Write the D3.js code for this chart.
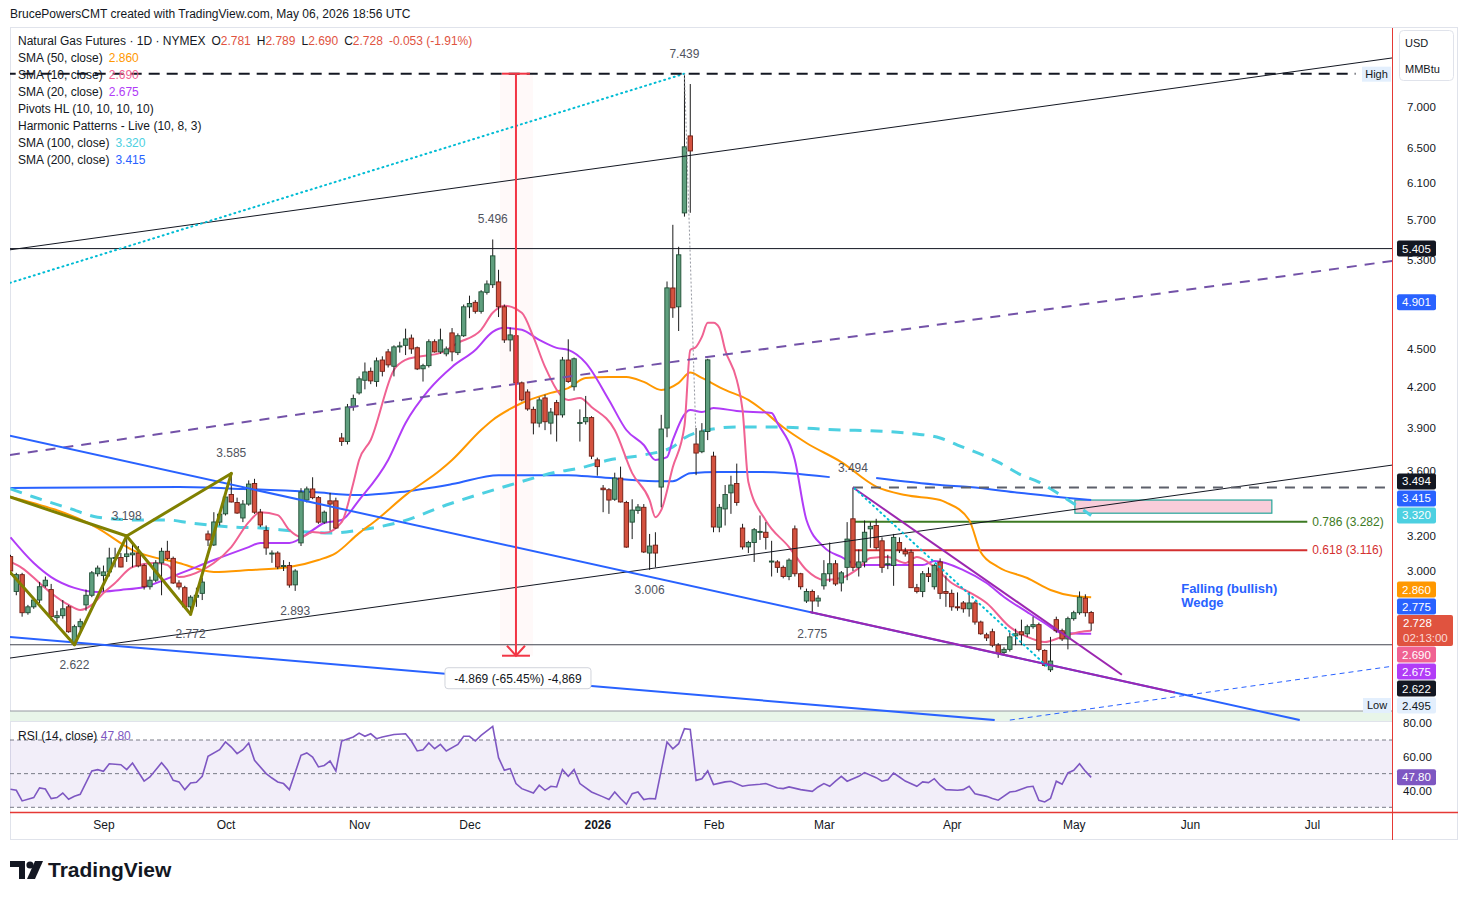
<!DOCTYPE html>
<html>
<head>
<meta charset="utf-8">
<title>Natural Gas Futures 1D</title>
<script src="https://cdn.jsdelivr.net/npm/d3@7"></script>
<style>
  body { margin: 0; background: #ffffff; }
  #drawing_region { display: block; font-family: "Liberation Sans", Arial, sans-serif; }
</style>
</head>
<body>
<svg id="drawing_region"></svg>
<script>
// daily bars, Aug 8 2025 .. May 6 2026 : [open, high, low, close]
const ohlc = [
 [3.08,3.09,2.98,3.00],[2.89,2.99,2.87,2.98],[2.98,2.99,2.76,2.78],[2.78,2.82,2.77,2.81],[2.81,2.85,2.80,2.845],
 [2.845,2.94,2.83,2.915],[2.92,2.97,2.91,2.95],[2.90,2.93,2.74,2.76],[2.755,2.79,2.73,2.765],[2.765,2.845,2.75,2.80],
 [2.81,2.82,2.68,2.685],[2.63,2.72,2.622,2.71],[2.71,2.75,2.69,2.735],[2.82,2.90,2.79,2.87],[2.87,3.00,2.86,2.99],
 [2.985,3.03,2.97,3.016],[2.975,3.03,2.89,2.995],[2.995,3.13,2.97,3.072],[3.07,3.13,3.02,3.075],[3.075,3.10,3.02,3.022],
 [3.08,3.198,3.05,3.095],[3.09,3.16,3.02,3.10],[3.10,3.14,3.02,3.028],[3.03,3.04,2.90,2.915],[2.915,2.97,2.90,2.95],
 [2.95,3.06,2.94,3.044],[3.045,3.13,2.87,3.11],[3.11,3.17,3.06,3.07],[3.07,3.08,2.93,2.935],[2.935,2.95,2.90,2.914],
 [2.91,2.92,2.80,2.81],[2.81,2.87,2.772,2.86],[2.86,2.91,2.81,2.87],[2.88,2.965,2.845,2.94],[3.21,3.23,3.14,3.175],
 [3.146,3.34,3.14,3.281],[3.28,3.35,3.26,3.328],[3.33,3.45,3.32,3.434],[3.45,3.585,3.40,3.403],[3.40,3.43,3.33,3.335],
 [3.305,3.415,3.28,3.39],[3.39,3.54,3.38,3.516],[3.52,3.55,3.33,3.34],[3.34,3.36,3.25,3.263],[3.23,3.26,3.09,3.129],
 [3.10,3.115,3.045,3.10],[3.10,3.11,3.01,3.022],[3.03,3.06,3.00,3.03],[3.03,3.05,2.91,2.924],[2.925,3.01,2.893,3.00],
 [3.158,3.49,3.14,3.465],[3.415,3.50,3.40,3.485],[3.485,3.56,3.42,3.43],[3.43,3.44,3.27,3.28],[3.28,3.35,3.27,3.34],
 [3.41,3.46,3.23,3.39],[3.41,3.43,3.24,3.245],[3.825,3.86,3.77,3.80],[3.80,4.07,3.78,4.048],[4.05,4.14,4.02,4.11],
 [4.153,4.28,4.14,4.261],[4.25,4.39,4.18,4.315],[4.32,4.35,4.22,4.245],[4.24,4.43,4.20,4.403],[4.41,4.44,4.28,4.32],
 [4.476,4.50,4.35,4.371],[4.36,4.53,4.28,4.517],[4.52,4.56,4.47,4.525],[4.53,4.67,4.45,4.583],[4.59,4.62,4.46,4.50],
 [4.51,4.52,4.33,4.339],[4.34,4.38,4.24,4.365],[4.365,4.58,4.35,4.56],[4.56,4.58,4.47,4.476],[4.476,4.67,4.46,4.575],
 [4.46,4.52,4.44,4.50],[4.634,4.675,4.40,4.476],[4.47,4.63,4.45,4.61],[4.61,4.88,4.60,4.86],[4.86,4.96,4.76,4.89],
 [4.90,4.92,4.80,4.82],[4.82,5.01,4.80,4.995],[4.99,5.10,4.97,5.067],[5.06,5.496,5.03,5.334],[5.086,5.20,4.77,4.86],
 [4.86,4.88,4.55,4.575],[4.575,4.68,4.48,4.617],[4.61,4.66,4.20,4.23],[4.23,4.24,4.09,4.10],[4.16,4.18,4.02,4.033],
 [4.03,4.05,3.85,3.931],[3.93,4.12,3.90,4.10],[4.115,4.14,3.88,3.94],[3.93,4.04,3.85,4.01],[4.08,4.10,3.80,3.99],
 [3.99,4.435,3.97,4.41],[4.41,4.58,4.23,4.24],[4.20,4.43,4.17,4.42],[3.93,4.03,3.80,3.935],[3.94,4.13,3.92,3.97],
 [3.97,3.98,3.68,3.70],[3.675,3.69,3.57,3.63],[3.49,3.51,3.34,3.48],[3.48,3.49,3.33,3.415],[3.42,3.59,3.41,3.555],
 [3.555,3.63,3.40,3.403],[3.40,3.41,3.13,3.134],[3.28,3.42,3.18,3.353],[3.35,3.39,3.33,3.372],[3.37,3.39,3.10,3.106],
 [3.10,3.21,3.006,3.14],[3.145,3.22,3.02,3.10],[3.497,3.99,3.37,3.888],[3.895,5.09,3.83,5.031],[5.03,5.645,4.763,4.851],
 [4.86,5.423,4.65,5.344],[5.769,7.439,5.73,6.509],[6.64,7.30,5.77,6.46],[3.783,3.895,3.574,3.721],[3.73,3.93,3.72,3.874],
 [3.87,4.42,3.81,4.411],[3.70,3.73,3.22,3.251],[3.25,3.39,3.22,3.37],[3.36,3.51,3.26,3.45],[3.46,3.57,3.33,3.51],
 [3.52,3.65,3.38,3.40],[3.245,3.27,3.12,3.135],[3.135,3.17,3.10,3.16],[3.16,3.245,3.05,3.235],[3.22,3.32,3.175,3.225],
 [3.22,3.28,3.12,3.19],[3.05,3.17,2.97,3.055],[3.05,3.06,2.99,3.02],[3.02,3.03,2.96,2.97],[2.97,3.07,2.95,3.06],
 [3.24,3.26,2.97,2.985],[2.985,2.99,2.90,2.915],[2.84,2.905,2.83,2.89],[2.89,2.90,2.775,2.84],[2.84,2.87,2.81,2.855],
 [2.92,3.06,2.90,2.985],[2.985,3.16,2.94,3.04],[3.04,3.06,2.92,2.93],[2.935,3.00,2.89,2.99],[3.02,3.28,2.95,3.18],
 [3.30,3.494,3.00,3.02],[3.02,3.12,2.97,3.05],[3.05,3.29,3.02,3.22],[3.24,3.28,3.13,3.255],[3.26,3.30,3.12,3.13],
 [3.17,3.19,2.99,3.02],[3.04,3.09,3.01,3.04],[3.03,3.21,2.92,3.19],[3.16,3.19,3.10,3.117],[3.11,3.13,3.08,3.095],
 [3.105,3.12,2.91,2.91],[2.91,2.93,2.88,2.89],[2.89,3.00,2.86,2.985],[2.985,3.02,2.94,2.97],[2.915,3.04,2.90,3.03],
 [3.05,3.07,2.85,2.88],[2.89,2.975,2.81,2.88],[2.88,2.90,2.79,2.81],[2.81,2.885,2.79,2.806],[2.83,2.84,2.78,2.80],
 [2.80,2.885,2.76,2.83],[2.83,2.84,2.72,2.733],[2.733,2.74,2.67,2.675],[2.67,2.68,2.64,2.655],[2.685,2.70,2.61,2.62],
 [2.62,2.63,2.56,2.58],[2.585,2.61,2.57,2.60],[2.60,2.68,2.59,2.66],[2.665,2.70,2.62,2.675],[2.685,2.745,2.62,2.67],
 [2.675,2.72,2.66,2.71],[2.71,2.76,2.70,2.72],[2.72,2.73,2.59,2.60],[2.595,2.60,2.52,2.525],[2.505,2.66,2.495,2.545],
 [2.745,2.76,2.68,2.69],[2.69,2.70,2.64,2.65],[2.65,2.76,2.60,2.75],[2.75,2.79,2.74,2.78],[2.78,2.89,2.77,2.86],
 [2.855,2.875,2.76,2.78],[2.781,2.789,2.690,2.728]
];

// moving averages: [bar, value]
const sma10 = [[0,3.05],[2,3.016],[5,2.935],[7,2.882],[10,2.82],[12,2.794],[14,2.82],[16,2.882],[18,2.935],[21,3.022],
 [25,3.044],[27,3.033],[29,2.967],[33,3.005],[35,3.044],[38,3.134],[41,3.28],[43,3.34],[46,3.322],[48,3.233],[50,3.192],
 [52,3.221],[54,3.215],[57,3.28],[59,3.522],[60,3.674],[62,3.811],[66,4.331],[68,4.411],[70,4.435],[74,4.468],[77,4.55],
 [81,4.66],[83,4.807],[85,4.87],[88,4.807],[90,4.60],[92,4.355],[96,4.10],[98,4.115],[100,4.048],[104,3.881],[107,3.587],
 [110,3.415],[111,3.31],[112,3.353],[114,3.627],[116,3.91],[117,4.49],[118,4.517],[119,4.60],[120,4.72],[121,4.72],
 [122,4.677],[123,4.492],[125,4.253],[126,4.026],[127,3.53],[130,3.29],[134,3.134],[137,3.005],[140,2.951],[143,2.962],
 [146,3.016],[148,3.072],[151,3.078],[154,3.044],[156,3.078],[159,3.022],[162,2.935],[165,2.887],[168,2.83],[172,2.709],
 [175,2.66],[178,2.635],[181,2.66],[184,2.684],[186,2.69]];
const sma20 = [[0,3.19],[4,3.044],[7,2.967],[11,2.909],[15,2.887],[19,2.898],[23,2.914],[29,2.984],[35,3.061],[41,3.134],
 [43,3.158],[48,3.158],[52,3.233],[54,3.275],[57,3.293],[60,3.415],[65,3.674],[68,3.931],[72,4.176],[76,4.355],[80,4.492],
 [83,4.643],[85,4.677],[88,4.66],[91,4.575],[94,4.509],[96,4.492],[99,4.387],[103,4.10],[106,3.881],[109,3.776],[111,3.674],
 [113,3.694],[114,3.811],[117,4.026],[119,4.01],[121,4.04],[125,4.018],[131,4.003],[132,3.931],[135,3.674],[137,3.293],
 [140,3.134],[143,3.078],[146,3.033],[151,3.033],[157,3.033],[159,3.055],[164,3.005],[168,2.935],[171,2.861],[175,2.783],
 [178,2.728],[181,2.679],[186,2.675]];
const sma50 = [[0,3.435],[15,3.245],[21,3.117],[29,3.044],[35,2.995],[41,3.005],[48,3.022],[53,3.061],[56,3.10],[60,3.215],
 [63,3.293],[68,3.446],[74,3.607],[76,3.674],[81,3.881],[83,3.953],[86,4.033],[88,4.077],[93,4.153],[96,4.19],[99,4.268],
 [103,4.276],[106,4.276],[109,4.237],[112,4.176],[115,4.23],[117,4.31],[119,4.268],[123,4.176],[127,4.10],[129,4.04],
 [133,3.90],[137,3.79],[143,3.66],[149,3.50],[154,3.446],[160,3.415],[161,3.40],[165,3.293],[167,3.105],[170,3.022],
 [175,2.962],[179,2.898],[183,2.866],[186,2.86]];
const sma100 = [[0,3.485],[4,3.434],[10,3.365],[15,3.31],[22,3.293],[27,3.293],[31,3.275],[38,3.251],[43,3.245],[49,3.227],
 [55,3.215],[60,3.233],[67,3.28],[75,3.384],[86,3.51],[94,3.594],[98,3.62],[103,3.674],[109,3.708],[114,3.763],[116,3.825],
 [120,3.881],[125,3.903],[131,3.903],[143,3.881],[149,3.874],[154,3.86],[160,3.825],[163,3.776],[170,3.66],[174,3.574],
 [177,3.529],[181,3.44],[186,3.32]];
const sma200 = [[0,3.491],[29,3.497],[40,3.485],[52,3.465],[60,3.446],[67,3.465],[76,3.516],[84,3.574],[96,3.574],[101,3.561],
 [111,3.535],[114,3.535],[117,3.587],[122,3.594],[129,3.594],[134,3.587],[141,3.561],[145,null],[149,3.555],[160,3.51],
 [165,3.497],[174,3.459],[182,3.428],[186,3.415]];

// RSI(14): [bar, value]
const rsi14 = [[0,40.7],[1,40.1],[2,33.8],[4,35.8],[5,41.5],[6,40.9],[7,35.2],[8,35.8],[9,38.5],[10,34.8],[11,36.5],[12,37.7],
 [14,51.6],[15,52.4],[16,51.4],[17,55.9],[19,55.3],[20,52.4],[21,56.3],[22,51],[23,45.6],[24,48],[26,56.5],[27,52.4],[28,46],
 [29,45.1],[30,40.5],[31,44.5],[32,44.9],[33,48.4],[34,60.3],[36,64.2],[37,68.8],[38,65.8],[39,61.9],[40,64.2],[41,68.2],
 [42,57.9],[44,50],[45,47.4],[46,45.1],[47,44.1],[48,40.5],[50,60.9],[51,62.3],[52,59.9],[53,54],[54,54.9],[55,57.5],[56,51.6],
 [57,69.4],[59,71.8],[60,74.1],[61,72.2],[62,73.7],[63,70.8],[64,71.8],[66,73.3],[68,73.7],[69,69.4],[70,63.5],[71,64.2],
 [72,68.2],[73,64.8],[74,67.4],[75,63.5],[77,67.4],[78,72.2],[79,72.2],[80,69.4],[81,72.7],[83,78.1],[84,59.5],[85,52],[86,53],
 [87,44.1],[88,41.1],[90,38.5],[91,43.1],[92,40.1],[93,42.5],[94,42.1],[95,52.4],[96,48.4],[97,52.4],[98,44.1],[100,39.1],
 [102,36.2],[103,34.6],[104,39.1],[105,35.2],[106,31.8],[107,38.1],[108,39.1],[109,34.6],[110,35.2],[111,35],[113,68.8],
 [114,64.8],[115,67.8],[116,76.7],[117,76.3],[118,46],[119,47],[120,51.6],[121,43.5],[123,45.1],[124,45.5],[126,42.5],
 [127,43.1],[129,43.7],[130,44.1],[132,41.5],[133,41.1],[134,42.1],[136,40.5],[138,39.5],[139,42.1],[140,44.1],[141,42.5],
 [142,45.6],[143,48.4],[144,45.5],[146,48.4],[147,50.6],[149,47.6],[150,45.5],[151,46.4],[152,50.4],[153,48],[154,45.6],
 [156,42.5],[157,45.1],[158,44.7],[159,47],[160,43.1],[161,40.5],[163,40.1],[164,40.5],[165,42.5],[166,38.1],[168,36.5],
 [169,35.2],[170,34.2],[172,39.1],[173,39.5],[175,42.1],[176,42.5],[177,34.2],[178,33.2],[179,35.2],[180,45.5],[181,43.7],
 [182,50.4],[183,52],[184,55.9],[185,51.5],[186,47.8]];

const monthLabels = ["Sep","Oct","Nov","Dec","2026","Feb","Mar","Apr","May","Jun","Jul"];
const monthBars = [16,37,60,79,101,121,140,162,183,203,224];
const priceTicks = [3.0,3.2,3.6,3.9,4.2,4.5,5.3,5.7,6.1,6.5,7.0];
const rsiTicks = [40,60,80];

const pivotHighBars = [20,38,83,116,145];
const pivotLowBars = [11,31,49,110,138];

const legendNames = ["SMA (50, close)","SMA (10, close)","SMA (20, close)","Pivots HL (10, 10, 10, 10)",
                     "Harmonic Patterns - Live (10, 8, 3)","SMA (100, close)","SMA (200, close)"];
const legendValues = ["2.860","2.690","2.675","","","3.320","3.415"];

const badgeValues = [5.405,4.901,3.494,3.415,3.320,2.860,2.775,2.690,2.675,2.622,2.495];
const badgeColors = ["#131722","#2962ff","#131722","#2962ff","#4dd0e1","#ff9800","#2962ff","#f06292","#b13cf7","#131722","#e3effd"];
const lastPrice = 2.728;
const lastRsi = 47.80;

// ---------------------------------------------------------------
const config = {
    width: 1468, height: 900,
    pane: {left: 10, right: 1392, top: 28, bottom: 721},
    rsiPane: {top: 722, bottom: 812},
    firstX: 10.5, barStep: 5.81
};

const svg = d3.select('#drawing_region')
    .attr('width', config.width)
    .attr('height', config.height);

const xscale = d3.scaleLinear()
    .domain([0, ohlc.length - 1])
    .range([config.firstX, config.firstX + (ohlc.length - 1) * config.barStep]);
const yscale = d3.scaleLog().domain([3, 7]).range([571, 107]);
const rsiscale = d3.scaleLinear().domain([30, 70]).range([807.3, 740]);

const P = d => [xscale(d[0]), yscale(d[1])];

const defs = svg.append('defs');
defs.append('clipPath').attr('id', 'clipMain').append('rect')
    .attr('x', config.pane.left).attr('y', config.pane.top)
    .attr('width', config.pane.right - config.pane.left).attr('height', config.pane.bottom - config.pane.top);
defs.append('clipPath').attr('id', 'clipRsi').append('rect')
    .attr('x', config.pane.left).attr('y', config.rsiPane.top)
    .attr('width', config.pane.right - config.pane.left).attr('height', config.rsiPane.bottom - config.rsiPane.top);
defs.append('clipPath').attr('id', 'clipRsiAxis').append('rect')
    .attr('x', 1392).attr('y', 716).attr('width', 70).attr('height', 96);

// frame
svg.append('rect').attr('x', 10.5).attr('y', 27.5).attr('width', 1447).attr('height', 812)
    .attr('fill', 'none').attr('stroke', '#e0e3eb');

svg.append('text').attr('x', 10).attr('y', 18)
    .attr('font-size', 12).attr('fill', '#131722')
    .text('BrucePowersCMT created with TradingView.com, May 06, 2026 18:56 UTC');

const main = svg.append('g').attr('clip-path', 'url(#clipMain)');

// low price band
main.append('rect').attr('x', 10).attr('y', 711).attr('width', 1382).attr('height', 10)
    .attr('fill', '#e8f5e9');
main.append('line').attr('x1', 10).attr('x2', 1392).attr('y1', 711).attr('y2', 711)
    .attr('stroke', '#9598a1').attr('stroke-width', 1);

// measure background
const mx = xscale(87);
main.append('rect').attr('x', mx - 16).attr('width', 33)
    .attr('y', yscale(7.439)).attr('height', yscale(2.570) - yscale(7.439))
    .attr('fill', '#f23645').attr('opacity', 0.03);

function seg(g, a, b, color, w, dash) {
    const p1 = P(a), p2 = P(b);
    return g.append('line')
        .attr('x1', p1[0]).attr('y1', p1[1]).attr('x2', p2[0]).attr('y2', p2[1])
        .attr('stroke', color).attr('stroke-width', w)
        .attr('stroke-dasharray', dash || null)
        .attr('stroke-linecap', dash === '1,4' ? 'round' : 'butt');
}

const under = main.append('g');
// horizontal levels
seg(under, [-1, 5.405], [238, 5.405], '#131722', 1);
seg(under, [-1, ohlc[11][2]], [238, ohlc[11][2]], '#434651', 1);
// fib retracement levels
seg(under, [145.3, 3.282], [223.2, 3.282], '#3d7a23', 2);
seg(under, [145.3, 3.116], [223.2, 3.116], '#d32f2f', 2);
// projected box
const b1 = P([183.2, 3.415]), b2 = P([217.1, 3.334]);
under.append('rect').attr('x', b1[0]).attr('y', b1[1]).attr('width', b2[0] - b1[0]).attr('height', b2[1] - b1[1])
    .attr('fill', '#f8cdda').attr('stroke', '#26a69a').attr('stroke-width', 1.2);

// moving averages
const lineGen = d3.line()
    .defined(d => d[1] !== null)
    .x(d => xscale(d[0]))
    .y(d => yscale(d[1]))
    .curve(d3.curveMonotoneX);

const smaStyles = [
    {data: sma200, color: '#2962ff', w: 2, dash: null},
    {data: sma100, color: '#4dd0e1', w: 3, dash: '12,9'},
    {data: sma50, color: '#ff9800', w: 2, dash: null},
    {data: sma20, color: '#b13cf7', w: 2, dash: null},
    {data: sma10, color: '#f06292', w: 2, dash: null}
];
smaStyles.forEach(s => {
    main.append('path').attr('d', lineGen(s.data))
        .attr('fill', 'none').attr('stroke', s.color)
        .attr('stroke-width', s.w).attr('stroke-dasharray', s.dash);
});

// candles
const cg = main.append('g');
cg.selectAll('line').data(ohlc).join('line')
    .attr('x1', (d, i) => xscale(i)).attr('x2', (d, i) => xscale(i))
    .attr('y1', d => yscale(d[1])).attr('y2', d => yscale(d[2]))
    .attr('stroke', '#1b1b1b').attr('stroke-width', 1);
cg.selectAll('rect').data(ohlc).join('rect')
    .attr('x', (d, i) => xscale(i) - 2.2).attr('width', 4.4)
    .attr('y', d => yscale(Math.max(d[0], d[3])))
    .attr('height', d => Math.max(1, Math.abs(yscale(d[0]) - yscale(d[3]))))
    .attr('fill', d => d[3] >= d[0] ? '#5f9f7e' : '#d4523f')
    .attr('stroke', d => d[3] >= d[0] ? '#1e4d33' : '#6e1c12')
    .attr('stroke-width', 0.9);

// drawings
const dr = main.append('g');
seg(dr, [-0.1, 5.393], [237.8, 7.656], '#131722', 1);
seg(dr, [-0.1, 2.559], [237.8, 3.64], '#131722', 1);
seg(dr, [-0.1, 3.708], [237.8, 5.285], '#7352a8', 2, '10,8');
seg(dr, [-0.1, 5.077], [116, 7.439], '#00bcd4', 2, '1,4');
seg(dr, [-0.1, 3.84], [221.9, 2.285], '#2962ff', 2);
seg(dr, [-0.1, 2.66], [169.4, 2.285], '#2962ff', 2);
seg(dr, [172, 2.285], [237.8, 2.521], '#2962ff', 1, '5,4');
seg(dr, [-1, 7.439], [231.5, 7.439], '#131722', 2, '11,7');
seg(dr, [145, 3.494], [238, 3.494], '#5d606b', 2, '10,8');
// falling wedge
seg(dr, [145, 3.494], [191.3, 2.482], '#9c27b0', 2);
seg(dr, [137.6, 2.784], [200.4, 2.403], '#9c27b0', 2);
seg(dr, [145.3, 3.488], [178.4, 2.521], '#00bcd4', 2, '1,4');
// harmonic pattern
const hA = [11, ohlc[11][2]], hB = [20, ohlc[20][1]], hC = [31, ohlc[31][2]], hD = [38, ohlc[38][1]];
[[[-0.1, 3.434], hB], [[-0.1, 2.995], hA], [hA, hB], [hB, hC], [hC, hD], [hB, hD]].forEach(s => {
    seg(dr, s[0], s[1], '#808000', 3).attr('stroke-linecap', 'round');
});
// gap connector
seg(dr, [116, 7.439], [118, 3.80], '#9598a1', 1, '2,2');

// measure arrow
const mTop = yscale(7.439), mBot = yscale(2.570);
dr.append('line').attr('x1', mx).attr('x2', mx).attr('y1', mTop).attr('y2', mBot)
    .attr('stroke', '#f23645').attr('stroke-width', 2);
[mTop, mBot].forEach(yy => dr.append('line').attr('x1', mx - 14).attr('x2', mx + 14)
    .attr('y1', yy).attr('y2', yy).attr('stroke', '#f23645').attr('stroke-width', 2));
dr.append('path').attr('d', `M${mx - 9},${mBot - 10}L${mx},${mBot}L${mx + 9},${mBot - 10}`)
    .attr('fill', 'none').attr('stroke', '#f23645').attr('stroke-width', 2);

// pivot labels
const pivG = main.append('g').attr('font-size', 12).attr('fill', '#50535e').attr('text-anchor', 'middle');
pivotHighBars.forEach(i => pivG.append('text').attr('x', xscale(i)).attr('y', yscale(ohlc[i][1]) - 16)
    .text(ohlc[i][1].toFixed(3)));
pivotLowBars.forEach(i => pivG.append('text').attr('x', xscale(i)).attr('y', yscale(ohlc[i][2]) + 24)
    .text(ohlc[i][2].toFixed(3)));

// wedge caption
const wp = P([201.5, 2.88]);
const wt = main.append('text').attr('x', wp[0]).attr('y', wp[1])
    .attr('font-size', 13).attr('font-weight', 'bold').attr('fill', '#2962ff');
wt.append('tspan').attr('x', wp[0]).text('Falling (bullish)');
wt.append('tspan').attr('x', wp[0]).attr('dy', 14).text('Wedge');

// fib captions
main.append('text').attr('x', xscale(223.2) + 5).attr('y', yscale(3.282) + 4)
    .attr('font-size', 12).attr('fill', '#3d7a23').text('0.786 (3.282)');
main.append('text').attr('x', xscale(223.2) + 5).attr('y', yscale(3.116) + 4)
    .attr('font-size', 12).attr('fill', '#d32f2f').text('0.618 (3.116)');

// measure label
const ml = svg.append('g');
ml.append('rect').attr('x', mx - 71).attr('y', mBot + 12).attr('width', 146).attr('height', 21).attr('rx', 3)
    .attr('fill', '#ffffff').attr('stroke', '#d1d4dc');
ml.append('text').attr('x', mx + 2).attr('y', mBot + 27).attr('text-anchor', 'middle')
    .attr('font-size', 12).attr('fill', '#131722').text('-4.869 (-65.45%) -4,869');

// high / low tags
const hl = svg.append('g').attr('font-size', 11).attr('fill', '#131722');
hl.append('rect').attr('x', 1362).attr('y', yscale(7.439) - 7).attr('width', 29).attr('height', 15).attr('fill', '#e3effd');
hl.append('text').attr('x', 1376.5).attr('y', yscale(7.439) + 4).attr('text-anchor', 'middle').text('High');
hl.append('rect').attr('x', 1363).attr('y', 698).attr('width', 28).attr('height', 15).attr('fill', '#e3effd');
hl.append('text').attr('x', 1377).attr('y', 709).attr('text-anchor', 'middle').text('Low');

// RSI pane
const rg = svg.append('g').attr('clip-path', 'url(#clipRsi)');
rg.append('rect').attr('x', 10).attr('width', 1382)
    .attr('y', rsiscale(70)).attr('height', rsiscale(30) - rsiscale(70))
    .attr('fill', '#7e57c2').attr('opacity', 0.1);
[70, 50, 30].forEach(v => rg.append('line').attr('x1', 10).attr('x2', 1392)
    .attr('y1', rsiscale(v)).attr('y2', rsiscale(v))
    .attr('stroke', '#787b86').attr('stroke-dasharray', '4,3').attr('stroke-width', 1));
rg.append('path')
    .attr('d', d3.line().x(d => xscale(d[0])).y(d => rsiscale(d[1]))(rsi14))
    .attr('fill', 'none').attr('stroke', '#7e57c2').attr('stroke-width', 1.6);
svg.append('line').attr('x1', 10).attr('x2', 1392).attr('y1', 721.5).attr('y2', 721.5).attr('stroke', '#e0e3eb');

const rl = svg.append('text').attr('x', 18).attr('y', 740).attr('font-size', 12).attr('fill', '#131722');
rl.append('tspan').text('RSI (14, close)  ');
rl.append('tspan').attr('fill', '#7e57c2').text(lastRsi.toFixed(2));

// axes
svg.append('line').attr('x1', 1392.5).attr('x2', 1392.5).attr('y1', 28).attr('y2', 840)
    .attr('stroke', '#e53935').attr('stroke-width', 1);
svg.append('line').attr('x1', 10).attr('x2', 1458).attr('y1', 812.5).attr('y2', 812.5)
    .attr('stroke', '#e53935').attr('stroke-width', 1.5);

const yAxis = d3.axisRight(yscale).tickValues(priceTicks).tickSize(0).tickPadding(0)
    .tickFormat(d3.format('.3f'));
const ya = svg.append('g').attr('transform', 'translate(1407,0)').call(yAxis);
ya.select('.domain').remove();
ya.selectAll('text').attr('font-size', 11.5).attr('fill', '#131722').attr('font-family', 'Liberation Sans');

const rAxis = d3.axisRight(rsiscale).tickValues(rsiTicks).tickSize(0).tickPadding(0)
    .tickFormat(d3.format('.2f'));
const ra = svg.append('g').attr('clip-path', 'url(#clipRsiAxis)')
    .append('g').attr('transform', 'translate(1403,0)').call(rAxis);
ra.select('.domain').remove();
ra.selectAll('text').attr('font-size', 11.5).attr('fill', '#131722').attr('font-family', 'Liberation Sans');

const xAxis = d3.axisBottom(xscale).tickValues(monthBars).tickSize(0).tickPadding(0)
    .tickFormat((d, i) => monthLabels[i]);
const xa = svg.append('g').attr('transform', 'translate(0,820)').call(xAxis);
xa.select('.domain').remove();
xa.selectAll('text').attr('font-size', 12).attr('fill', '#131722').attr('font-family', 'Liberation Sans')
    .attr('font-weight', d => monthLabels[monthBars.indexOf(d)] === '2026' ? 'bold' : 'normal');

// unit box
svg.append('rect').attr('x', 1399.5).attr('y', 30.5).attr('width', 54).attr('height', 50).attr('rx', 4)
    .attr('fill', '#ffffff').attr('stroke', '#e0e3eb');
svg.append('text').attr('x', 1405).attr('y', 47).attr('font-size', 11).attr('fill', '#131722').text('USD');
svg.append('text').attr('x', 1405).attr('y', 73).attr('font-size', 11).attr('fill', '#131722').text('MMBtu');

// price badges, pushed apart around the last price tag
const lastTop = yscale(lastPrice) - 8, lastBottom = lastTop + 31;
const badges = badgeValues.map((v, k) => ({v: v, color: badgeColors[k], cy: yscale(v)}));
let limit = lastTop;
badges.filter(b => b.v > lastPrice).sort((a, b) => a.v - b.v).forEach(b => {
    b.cy = Math.min(b.cy, limit - 8.5); limit = b.cy - 8.5;
});
limit = lastBottom;
badges.filter(b => b.v < lastPrice).sort((a, b) => b.v - a.v).forEach(b => {
    b.cy = Math.max(b.cy, limit + 8.5); limit = b.cy + 8.5;
});
const bg = svg.append('g').attr('font-size', 11.5);
badges.forEach(b => {
    bg.append('rect').attr('x', 1397).attr('y', b.cy - 8).attr('width', 39).attr('height', 16).attr('rx', 2)
        .attr('fill', b.color);
    bg.append('text').attr('x', 1416.5).attr('y', b.cy + 4).attr('text-anchor', 'middle')
        .attr('fill', b.color === '#e3effd' ? '#131722' : '#ffffff').text(b.v.toFixed(3));
});
bg.append('rect').attr('x', 1397).attr('y', lastTop).attr('width', 56).attr('height', 31).attr('rx', 2)
    .attr('fill', '#e0533f');
bg.append('text').attr('x', 1403).attr('y', lastTop + 12).attr('fill', '#ffffff').text(lastPrice.toFixed(3));
bg.append('text').attr('x', 1403).attr('y', lastTop + 27).attr('fill', '#fbd9d4').text('02:13:00');
bg.append('rect').attr('x', 1397).attr('y', rsiscale(lastRsi) - 8).attr('width', 39).attr('height', 16).attr('rx', 2)
    .attr('fill', '#7e57c2');
bg.append('text').attr('x', 1416.5).attr('y', rsiscale(lastRsi) + 4).attr('text-anchor', 'middle')
    .attr('fill', '#ffffff').text(lastRsi.toFixed(2));

// legend
const lg = svg.append('g').attr('font-size', 12).attr('fill', '#131722');
const l1 = lg.append('text').attr('x', 18).attr('y', 45);
l1.append('tspan').text('Natural Gas Futures · 1D · NYMEX');
const last = ohlc[ohlc.length - 1];
[['O', last[0]], ['H', last[1]], ['L', last[2]], ['C', last[3]]].forEach(p => {
    l1.append('tspan').attr('dx', 6).text(p[0]);
    l1.append('tspan').attr('fill', '#e0533f').text(p[1].toFixed(3));
});
l1.append('tspan').attr('dx', 6).attr('fill', '#e0533f').text('-0.053 (-1.91%)');
const legendColors = ['#ff9800', '#f06292', '#b13cf7', null, null, '#4dd0e1', '#2962ff'];
legendNames.forEach((n, k) => {
    const t = lg.append('text').attr('x', 18).attr('y', 62 + k * 17);
    t.append('tspan').text(n);
    if (legendValues[k]) t.append('tspan').attr('dx', 6).attr('fill', legendColors[k]).text(legendValues[k]);
});

// footer logo
const logo = svg.append('g').attr('fill', '#131722');
logo.append('path').attr('d', 'M10,861H25V879H19V867H10Z');
logo.append('circle').attr('cx', 30).attr('cy', 865).attr('r', 3.6);
logo.append('path').attr('d', 'M35,861H43L35,879H27Z');
svg.append('text').attr('x', 48).attr('y', 877).attr('font-size', 21).attr('font-weight', 'bold')
    .attr('fill', '#131722').text('TradingView');
</script>
</body>
</html>
